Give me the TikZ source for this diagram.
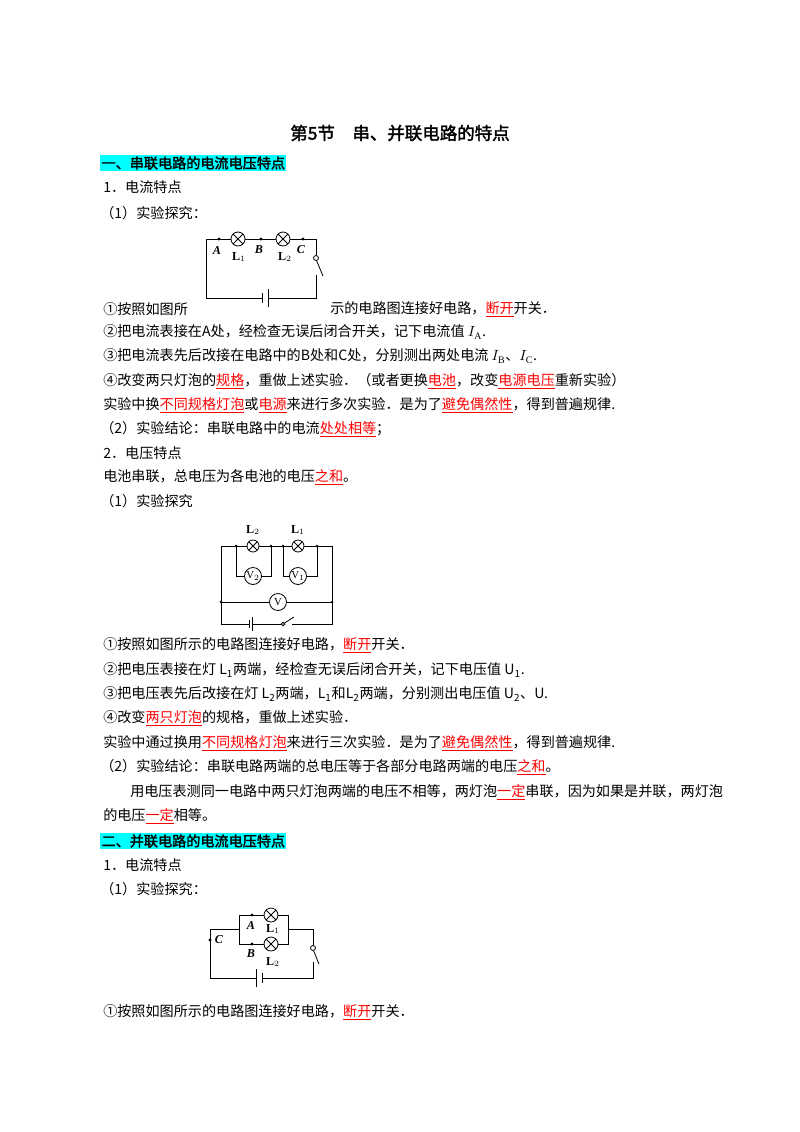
\documentclass[tikz,border=0pt]{standalone}
\usepackage{fontspec}
\setmainfont{Liberation Serif}
\newfontfamily\cjk{Noto Sans CJK SC}
\newfontfamily\cjkb{Noto Sans CJK SC}[FakeBold=2]
\newcommand{\rd}[1]{\textcolor{red}{\underline{#1}}}
\definecolor{hl}{RGB}{0,255,255}
\begin{document}
\begin{tikzpicture}[x=0.744pt,y=-0.744pt,
  t/.style={anchor=west,inner sep=0pt,font=\cjk\fontsize{10.5}{12}\selectfont},
  hd/.style={anchor=west,inner sep=1pt,fill=hl,font=\cjkb\fontsize{10.5}{12}\selectfont},
  w/.style={line width=0.6pt},
  dot/.style={circle,fill,inner sep=0.9pt},
  lb/.style={inner sep=0pt,font=\bfseries\itshape\fontsize{9}{10}\selectfont},
  ll/.style={inner sep=0pt,font=\bfseries\fontsize{9}{10}\selectfont}]
\useasboundingbox (0,0) rectangle (800,1132);
\newcommand{\lamp}[3]{\draw[w,fill=white] (#1,#2) circle (#3);
  \draw[w] (#1,#2)++(45:#3)--++(225:2*#3) (#1,#2)++(135:#3)--++(-45:2*#3);}
\node[anchor=center,inner sep=0pt,font=\cjkb\fontsize{13}{15}\selectfont] (title) at (400,133) {第5节\quad 串、并联电路的特点};
\node[hd] (h1) at (100,163) {一、串联电路的电流电压特点};
\node[t] (a1) at (103,187) {1．电流特点};
\node[t] (a2) at (100,213) {（1）实验探究：};
% circuit 1
\draw[w] (316,275)--(316,298)--(268,298) (262,298)--(206,298)--(206,239)--(231,239) (245,239)--(276,239) (290,239)--(316,239)--(316,255);
\draw[w] (268,289)--(268,307); \draw[w] (262,293)--(262,303);
\draw[w,fill=white] (316,258) circle (2.5);
\draw[w] (316.5,260.5)--(323,276);
\lamp{238}{239}{7}\lamp{283}{239}{7}
\node[dot] (pA) at (219,239) {}; \node[dot] (pB) at (261,239) {}; \node[dot] (pC) at (303,239) {};
\node[lb] at (217,250) {A}; \node[lb] at (259,250) {B}; \node[lb] at (301,250) {C};
\node[ll] at (239,257) {L$_1$}; \node[ll] at (285,257) {L$_2$};
\node[t] (b1) at (103,309) {①按照如图所};
\node[t] (b1b) at (330,309) {示的电路图连接好电路，\rd{断开}开关．};
\node[t] (b2) at (103,332) {②把电流表接在A处，经检查无误后闭合开关，记下电流值 $I_{\rm A}$.};
\node[t] (b3) at (103,356) {③把电流表先后改接在电路中的B处和C处，分别测出两处电流 $I_{\rm B}$、$I_{\rm C}$.};
\node[t] (b4) at (103,381) {④改变两只灯泡的\rd{规格}，重做上述实验．（或者更换\rd{电池}，改变\rd{电源电压}重新实验）};
\node[t] (b5) at (103,405) {实验中换\rd{不同规格灯泡}或\rd{电源}来进行多次实验．是为了\rd{避免偶然性}，得到普遍规律.};
\node[t] (b6) at (100,429) {（2）实验结论：串联电路中的电流\rd{处处相等}；};
\node[t] (c1) at (103,453) {2．电压特点};
\node[t] (c2) at (103,477) {电池串联，总电压为各电池的电压\rd{之和}。};
\node[t] (c3) at (100,501) {（1）实验探究};
% circuit 2
\draw[w] (249,624)--(221,624)--(221,546)--(332,546)--(332,624)--(292,624) (281,624)--(252,624);
\draw[w] (236,546)--(236,576)--(271,576)--(271,546) (283,546)--(283,576)--(317,576)--(317,546);
\draw[w] (221,602)--(332,602);
\draw[w] (252,617)--(252,631); \draw[w] (249,620)--(249,628);
\draw[w,fill=white] (283,624) circle (1.8); \draw[w] (284.5,623)--(294,617);
\lamp{253}{546}{6}\lamp{298}{546}{6}
\foreach \x/\n in {253/V$_2$,298/V$_1$}{\draw[w,fill=white] (\x,576) circle (8.5); \node[inner sep=0pt,font=\fontsize{8}{9}\selectfont] at (\x,576) {\n};}
\draw[w,fill=white] (278,602) circle (8.5); \node[inner sep=0pt,font=\fontsize{8}{9}\selectfont] at (278,602) {V};
\foreach \x in {236,271,283,317} \node[dot,inner sep=0.7pt] at (\x,546) {};
\node[dot,inner sep=0.7pt] at (221,602) {}; \node[dot,inner sep=0.7pt] at (332,602) {};
\node[ll] at (253,530) {L$_2$}; \node[ll] at (298,530) {L$_1$};
\node[t] (d1) at (103,645) {①按照如图所示的电路图连接好电路，\rd{断开}开关．};
\node[t] (d2) at (103,670) {②把电压表接在灯 L\textsubscript{1}两端，经检查无误后闭合开关，记下电压值 U\textsubscript{1}.};
\node[t] (d3) at (103,694) {③把电压表先后改接在灯 L\textsubscript{2}两端，L\textsubscript{1}和L\textsubscript{2}两端，分别测出电压值 U\textsubscript{2}、U.};
\node[t] (d4) at (103,718) {④改变\rd{两只灯泡}的规格，重做上述实验．};
\node[t] (d5) at (103,743) {实验中通过换用\rd{不同规格灯泡}来进行三次实验．是为了\rd{避免偶然性}，得到普遍规律.};
\node[t] (d6) at (100,767) {（2）实验结论：串联电路两端的总电压等于各部分电路两端的电压\rd{之和}。};
\node[t] (e1) at (130,792) {用电压表测同一电路中两只灯泡两端的电压不相等，两灯泡\rd{一定}串联，因为如果是并联，两灯泡};
\node[t] (e2) at (103,816) {的电压\rd{一定}相等。};
\node[hd] (h2) at (100,841) {二、并联电路的电流电压特点};
\node[t] (f1) at (103,865) {1．电流特点};
\node[t] (f2) at (100,889) {（1）实验探究：};
% circuit 3
\draw[w] (239,915)--(288,915)--(288,944)--(239,944)--cycle;
\draw[w] (239,929)--(210,929)--(210,978)--(256,978) (262,978)--(313,978)--(313,962) (288,929)--(313,929)--(313,945);
\draw[w] (256,969)--(256,987); \draw[w] (262,973)--(262,983);
\draw[w,fill=white] (313,948) circle (2.5); \draw[w] (313.5,950.5)--(319,964);
\lamp{271}{915}{7}\lamp{271}{944}{7}
\node[dot] at (252,915) {}; \node[dot] at (252,944) {}; \node[dot] at (210,940) {};
\node[lb] at (251,925) {A}; \node[lb] at (251,954) {B}; \node[lb] at (219,940) {C};
\node[ll] at (273,929) {L$_1$}; \node[ll] at (273,962) {L$_2$};
\node[t] (g1) at (103,1012) {①按照如图所示的电路图连接好电路，\rd{断开}开关．};
\end{tikzpicture}
\end{document}
